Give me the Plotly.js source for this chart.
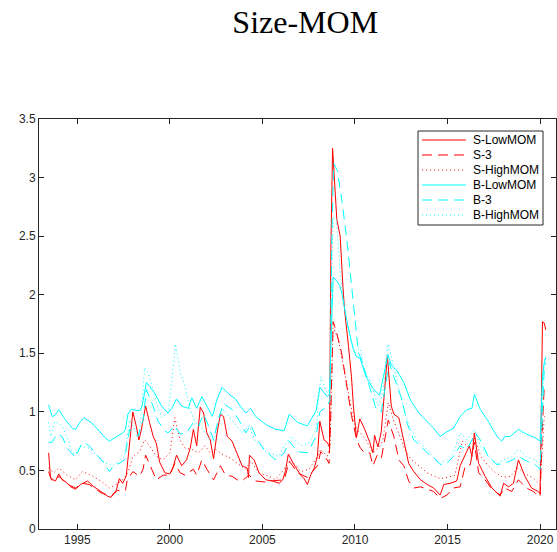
<!DOCTYPE html>
<html>
<head>
<meta charset="utf-8">
<script src="https://cdn.plot.ly/plotly-3.0.1.min.js"></script>
<style>html,body{margin:0;padding:0;background:#fff;}#chart{width:557px;height:552px;}</style>
</head>
<body>
<div id="chart"></div>
<script>
var seriesNames = ["S-LowMOM", "S-3", "S-HighMOM", "B-LowMOM", "B-3", "B-HighMOM"];
var xTickVals = [1995, 2000, 2005, 2010, 2015, 2020];
var yTickVals = [0, 0.5, 1, 1.5, 2, 2.5, 3, 3.5];

var sLowX = [1993.45,1993.55,1993.7,1993.82,1994.0,1994.18,1994.4,1994.64,1994.9,1995.18,1995.55,1995.9,1996.27,1996.64,1996.82,1997.1,1997.27,1997.45,1997.64,1997.82,1998.0,1998.18,1998.33,1998.45,1998.69,1998.9,1999.1,1999.27,1999.45,1999.73,2000.0,2000.18,2000.36,2000.64,2000.9,2001.1,2001.27,2001.45,2001.64,2001.82,2002.0,2002.18,2002.36,2002.55,2002.73,2002.9,2003.1,2003.36,2003.64,2003.9,2004.18,2004.25,2004.3,2004.55,2004.82,2005.18,2005.55,2005.9,2006.1,2006.25,2006.4,2006.7,2007.07,2007.25,2007.43,2007.6,2007.8,2007.97,2008.1,2008.33,2008.5,2008.62,2008.7,2008.79,2009.02,2009.2,2009.36,2009.45,2009.65,2009.81,2009.92,2010.08,2010.26,2010.53,2010.8,2010.97,2011.06,2011.24,2011.42,2011.6,2011.75,2011.96,2012.1,2012.37,2012.64,2012.9,2013.18,2013.54,2013.9,2014.25,2014.6,2014.8,2015.15,2015.5,2015.68,2015.96,2016.18,2016.32,2016.45,2016.68,2017.03,2017.4,2017.84,2018.03,2018.3,2018.56,2018.83,2019.18,2019.54,2019.9,2020.0,2020.13,2020.22,2020.31];
var sLowY = [0.65,0.44,0.42,0.41,0.47,0.42,0.40,0.36,0.34,0.38,0.41,0.36,0.32,0.28,0.27,0.33,0.43,0.39,0.45,0.76,1.00,0.88,0.76,0.84,1.05,0.91,0.79,0.73,0.57,0.48,0.47,0.53,0.63,0.54,0.59,0.69,0.85,0.71,1.04,0.99,0.82,0.76,0.60,0.82,0.98,0.96,0.79,0.75,0.64,0.54,0.52,0.44,0.63,0.59,0.48,0.42,0.41,0.39,0.42,0.50,0.64,0.55,0.46,0.43,0.38,0.46,0.52,0.62,0.92,0.76,0.74,0.70,2.40,3.25,2.64,2.50,2.04,1.85,1.56,1.30,1.04,0.78,0.94,0.85,0.74,0.65,0.80,0.70,0.83,1.20,1.48,1.05,0.98,0.95,0.76,0.56,0.49,0.42,0.38,0.35,0.29,0.38,0.39,0.41,0.54,0.63,0.71,0.62,0.82,0.56,0.45,0.35,0.28,0.39,0.36,0.39,0.59,0.45,0.35,0.32,0.30,1.77,1.76,1.70];

var s3X = [1993.45,1993.6,1993.8,1994.0,1994.3,1994.64,1994.9,1995.27,1995.64,1996.0,1996.27,1996.82,1997.18,1997.45,1997.6,1997.7,1998.0,1998.36,1998.55,1998.69,1999.0,1999.27,1999.64,2000.0,2000.27,2000.55,2000.82,2001.27,2001.45,2001.73,2002.0,2002.36,2002.73,2003.0,2003.36,2003.64,2003.9,2004.27,2004.64,2005.18,2005.46,2006.18,2006.45,2006.9,2007.43,2007.97,2008.15,2008.42,2008.6,2008.68,2008.82,2009.0,2009.27,2009.54,2009.81,2010.08,2010.26,2010.5,2010.8,2010.97,2011.2,2011.42,2011.6,2011.8,2012.1,2012.37,2012.64,2012.9,2013.18,2013.54,2013.9,2014.25,2014.6,2014.97,2015.32,2015.68,2015.96,2016.23,2016.45,2016.68,2017.03,2017.4,2017.84,2018.1,2018.47,2018.83,2019.26,2019.64,2019.9,2020.0,2020.13,2020.22,2020.31];
var s3Y = [0.49,0.42,0.41,0.45,0.41,0.37,0.35,0.39,0.38,0.34,0.31,0.28,0.33,0.32,0.33,0.42,0.49,0.45,0.51,0.63,0.51,0.42,0.46,0.46,0.56,0.48,0.46,0.51,0.46,0.59,0.51,0.42,0.54,0.46,0.45,0.42,0.41,0.46,0.41,0.40,0.41,0.42,0.58,0.48,0.44,0.54,0.66,0.61,0.56,0.90,1.77,1.68,1.51,1.22,0.97,0.77,0.70,0.65,0.65,0.54,0.63,0.60,0.75,0.93,0.79,0.59,0.54,0.41,0.35,0.36,0.34,0.32,0.26,0.29,0.35,0.36,0.54,0.55,0.74,0.48,0.42,0.34,0.29,0.35,0.32,0.42,0.35,0.32,0.28,0.28,0.90,1.20,1.21];

var sHighX = [1993.45,1993.73,1994.0,1994.45,1994.9,1995.27,1995.73,1996.27,1996.73,1997.1,1997.45,1997.73,1998.0,1998.36,1998.64,1998.9,1999.27,1999.64,2000.0,2000.27,2000.55,2000.82,2001.18,2001.55,2001.9,2002.18,2002.45,2002.82,2003.2,2003.64,2004.1,2004.36,2004.82,2005.36,2005.7,2006.18,2006.54,2007.07,2007.52,2007.97,2008.15,2008.5,2008.65,2008.82,2009.1,2009.36,2009.65,2009.9,2010.1,2010.3,2010.6,2010.97,2011.3,2011.5,2011.8,2012.1,2012.4,2012.7,2013.0,2013.5,2013.9,2014.3,2014.6,2015.0,2015.4,2015.8,2016.1,2016.45,2016.8,2017.2,2017.6,2018.0,2018.4,2018.8,2019.2,2019.6,2020.0,2020.13,2020.22,2020.31];
var sHighY = [0.52,0.48,0.52,0.46,0.42,0.49,0.46,0.41,0.35,0.38,0.42,0.48,0.62,0.66,0.76,0.71,0.62,0.59,0.65,0.95,0.76,0.69,0.68,0.65,0.71,0.65,0.68,0.64,0.61,0.56,0.51,0.58,0.48,0.45,0.42,0.51,0.59,0.49,0.51,0.62,0.68,0.62,0.70,1.72,1.62,1.40,1.15,0.95,0.85,0.82,0.76,0.65,0.70,0.75,1.08,0.92,0.80,0.68,0.60,0.53,0.48,0.45,0.43,0.44,0.46,0.75,0.70,0.78,0.62,0.54,0.48,0.44,0.45,0.52,0.47,0.44,0.38,0.70,0.95,0.98];

var bLowX = [1993.45,1993.64,1993.8,1994.0,1994.27,1994.5,1994.73,1994.9,1995.18,1995.36,1995.73,1996.0,1996.27,1996.5,1996.73,1997.1,1997.45,1997.6,1997.73,1997.9,1998.36,1998.5,1998.73,1998.9,1999.18,1999.55,1999.9,2000.1,2000.36,2000.64,2001.0,2001.18,2001.45,2001.73,2001.9,2002.1,2002.3,2002.45,2002.55,2002.82,2003.2,2003.55,2003.8,2004.1,2004.36,2004.64,2005.2,2005.73,2006.18,2006.45,2006.9,2007.43,2007.9,2008.1,2008.5,2008.62,2008.72,2008.82,2009.0,2009.18,2009.29,2009.45,2009.56,2009.72,2009.92,2010.08,2010.27,2010.6,2010.97,2011.33,2011.6,2011.78,2011.96,2012.28,2012.64,2013.0,2013.45,2013.9,2014.25,2014.6,2014.97,2015.32,2015.68,2016.05,2016.32,2016.45,2016.77,2017.2,2017.67,2017.93,2018.1,2018.38,2018.83,2019.26,2019.73,2020.0,2020.13,2020.22,2020.31];
var bLowY = [1.06,0.96,0.97,1.02,0.95,0.90,0.86,0.85,0.92,0.95,0.91,0.87,0.82,0.78,0.75,0.79,0.82,0.85,0.98,1.02,1.01,1.05,1.25,1.22,1.16,1.05,0.99,1.03,1.11,1.05,1.03,1.12,1.03,1.13,1.08,1.02,0.96,1.05,1.11,1.21,1.15,1.11,1.05,0.99,1.03,0.96,0.89,0.85,0.84,0.98,0.91,0.88,1.01,1.21,1.13,1.15,1.60,2.15,2.12,2.08,2.01,1.85,1.78,1.66,1.53,1.47,1.46,1.30,1.20,1.14,1.34,1.49,1.40,1.35,1.25,1.10,0.99,0.92,0.86,0.79,0.83,0.86,0.96,1.02,1.03,1.15,1.02,0.92,0.79,0.75,0.79,0.79,0.85,0.81,0.78,0.75,1.30,1.42,1.47];

var b3X = [1993.45,1993.64,1993.9,1994.18,1994.45,1994.73,1994.9,1995.18,1995.36,1995.64,1996.1,1996.45,1996.73,1997.0,1997.27,1997.55,1997.82,1998.09,1998.27,1998.55,1998.73,1999.09,1999.36,1999.73,1999.9,2000.27,2000.55,2000.9,2001.27,2001.55,2001.82,2002.09,2002.36,2002.64,2002.9,2003.36,2003.73,2004.1,2004.36,2004.73,2005.18,2005.73,2006.18,2006.45,2006.9,2007.43,2007.9,2008.1,2008.5,2008.65,2008.75,2008.85,2009.05,2009.29,2009.56,2009.83,2010.0,2010.19,2010.35,2010.8,2011.15,2011.42,2011.69,2011.85,2012.1,2012.28,2012.55,2012.82,2013.18,2013.54,2013.9,2014.25,2014.6,2014.97,2015.32,2015.68,2016.05,2016.32,2016.5,2016.77,2017.2,2017.67,2018.03,2018.38,2018.83,2019.26,2019.73,2020.0,2020.13,2020.22,2020.31];
var b3Y = [0.74,0.74,0.81,0.79,0.69,0.64,0.61,0.71,0.74,0.71,0.62,0.56,0.49,0.55,0.56,0.59,0.85,0.82,0.79,0.93,1.19,1.05,0.92,0.84,0.82,0.88,0.81,0.82,0.91,0.88,0.98,0.88,0.76,0.95,1.07,1.02,0.93,0.82,0.89,0.76,0.66,0.59,0.65,0.75,0.66,0.65,0.79,1.00,1.05,1.10,2.50,3.12,3.06,2.81,2.47,2.04,1.76,1.50,1.45,1.20,1.02,1.00,1.28,1.42,1.30,1.22,1.10,0.90,0.76,0.71,0.65,0.61,0.55,0.56,0.62,0.71,0.68,0.76,0.82,0.76,0.62,0.55,0.56,0.58,0.62,0.58,0.55,0.51,1.10,1.35,1.42];

var bHighX = [1993.45,1993.55,1993.8,1994.18,1994.55,1994.73,1994.9,1995.18,1995.64,1996.1,1996.55,1996.9,1997.27,1997.55,1997.82,1998.09,1998.36,1998.64,1998.9,1999.18,1999.55,1999.9,2000.09,2000.3,2000.55,2000.82,2001.1,2001.36,2001.64,2001.9,2002.18,2002.36,2002.64,2002.9,2003.2,2003.55,2003.9,2004.27,2004.64,2005.18,2005.9,2006.18,2006.54,2007.07,2007.52,2007.9,2008.15,2008.5,2008.65,2008.75,2008.82,2009.0,2009.2,2009.47,2009.75,2010.0,2010.3,2010.5,2010.8,2011.24,2011.5,2011.78,2012.1,2012.37,2012.64,2013.0,2013.45,2013.9,2014.25,2014.6,2014.97,2015.32,2015.68,2016.05,2016.45,2016.77,2017.2,2017.67,2018.03,2018.38,2018.83,2019.26,2019.73,2020.0,2020.13,2020.22,2020.31];
var bHighY = [0.91,0.79,0.92,0.88,0.74,0.65,0.64,0.71,0.69,0.62,0.56,0.54,0.59,0.62,0.93,0.85,0.79,1.38,1.30,1.13,0.95,0.99,1.25,1.58,1.35,1.22,1.02,0.91,0.88,0.82,0.76,0.74,0.93,1.02,0.96,0.88,0.82,0.88,0.74,0.66,0.62,0.71,0.79,0.71,0.74,0.85,1.30,1.16,1.20,2.20,2.67,2.64,2.18,1.84,1.62,1.50,1.54,1.33,1.28,1.05,1.15,1.58,1.39,1.19,1.02,0.85,0.74,0.68,0.62,0.56,0.59,0.65,0.82,0.76,0.85,0.71,0.62,0.56,0.59,0.61,0.68,0.62,0.59,0.54,1.10,1.40,1.48];

var xs = [sLowX, s3X, sHighX, bLowX, b3X, bHighX];
var ys = [sLowY, s3Y, sHighY, bLowY, b3Y, bHighY];
var colors = ['#FF0000','#FF0000','#FF0000','#00FFFF','#00FFFF','#00FFFF'];
var dashes = ['solid','10px,6px','1px,3px','solid','10px,6px','1px,3px'];

var traces = seriesNames.map(function(n, i){
  return {x: xs[i], y: ys[i], name: n, type: 'scatter', mode: 'lines',
    line: {color: colors[i], width: 1, dash: dashes[i]}, hoverinfo: 'skip', showlegend: false};
});

// Plot-area geometry (pixels) used to place a compact MATLAB-style legend box
var W = 557, H = 552, mL = 39, mR = 1, mT = 119, mB = 23;
var pw = W - mL - mR, ph = H - mT - mB;
function px2x(p){ return (p - mL) / pw; }
function py2y(p){ return (H - mB - p) / ph; }
var legBox = {x0: 418, x1: 543, y0: 131, y1: 225};
var legRow0 = 140, legRowGap = 15, legLineX0 = 422, legLineX1 = 466, legTextX = 471;

var shapes = [{type: 'rect', xref: 'paper', yref: 'paper',
  x0: px2x(legBox.x0), x1: px2x(legBox.x1), y0: py2y(legBox.y1), y1: py2y(legBox.y0),
  line: {color: '#262626', width: 1}, fillcolor: '#ffffff', layer: 'above'}];
var annotations = [];
seriesNames.forEach(function(n, i){
  var yy = py2y(legRow0 + legRowGap * i);
  shapes.push({type: 'line', xref: 'paper', yref: 'paper', x0: px2x(legLineX0), x1: px2x(legLineX1),
    y0: yy, y1: yy, line: {color: colors[i], width: 1, dash: dashes[i]}, layer: 'above'});
  annotations.push({xref: 'paper', yref: 'paper', x: px2x(legTextX), y: yy, xanchor: 'left', yanchor: 'middle',
    text: n, showarrow: false, font: {family: 'Liberation Sans, Arial, sans-serif', size: 12, color: '#000'}});
});

var axisFont = {family: 'Liberation Sans, Arial, sans-serif', size: 12, color: '#262626'};
var layout = {
  width: W, height: H,
  margin: {l: mL, r: mR, t: mT, b: mB, pad: 0},
  paper_bgcolor: '#ffffff', plot_bgcolor: '#ffffff',
  title: {text: 'Size-MOM', font: {family: 'Liberation Serif, Times New Roman, serif', size: 32, color: '#000'},
    xref: 'paper', x: 0.515, xanchor: 'center', yref: 'container', y: 0.96, yanchor: 'middle'},
  xaxis: {range: [1992.93, 2020.86], tickvals: xTickVals, ticktext: xTickVals.map(String),
    ticks: 'inside', ticklen: 5, tickcolor: '#262626', showline: true, linecolor: '#262626', linewidth: 1,
    mirror: 'ticks', showgrid: false, zeroline: false, tickfont: axisFont, fixedrange: true},
  yaxis: {range: [0, 3.5], tickvals: yTickVals, ticktext: yTickVals.map(String),
    ticks: 'inside', ticklen: 5, tickcolor: '#262626', showline: true, linecolor: '#262626', linewidth: 1,
    mirror: 'ticks', showgrid: false, zeroline: false, tickfont: axisFont, fixedrange: true},
  showlegend: false,
  shapes: shapes,
  annotations: annotations
};
Plotly.newPlot('chart', traces, layout, {displayModeBar: false, staticPlot: true});
</script>
</body>
</html>
